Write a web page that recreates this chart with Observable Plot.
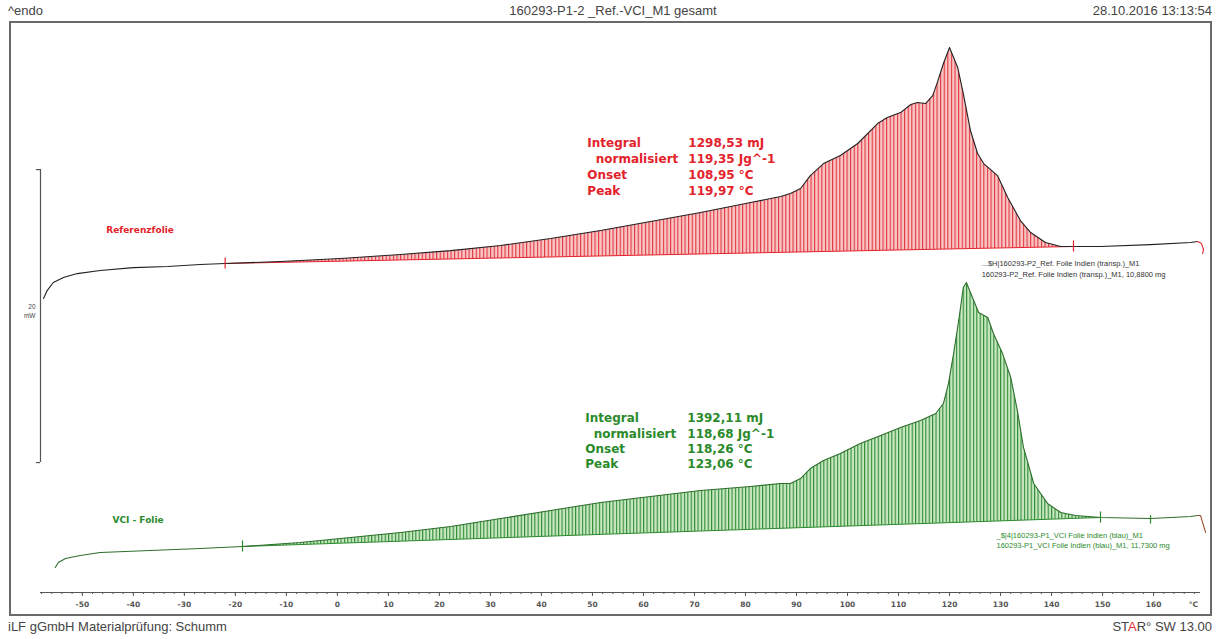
<!DOCTYPE html>
<html>
<head>
<meta charset="utf-8">
<script src="https://cdn.jsdelivr.net/npm/d3@7"></script>
<script src="https://cdn.jsdelivr.net/npm/@observablehq/plot@0.6"></script>
<style>
  html, body { margin: 0; padding: 0; background: #fff; }
  body { width: 1219px; height: 639px; position: relative; overflow: hidden; font-family: "Liberation Sans", Arial, sans-serif; color: #444; }
  .hdr { position: absolute; font-size: 13px; line-height: 15px; white-space: nowrap; }
  #chart { position: absolute; left: 0; top: 22px; }
  #frame { position: absolute; left: 9px; top: 21px; width: 1199px; height: 591px; border: 2px solid #6a6a6a; pointer-events: none; z-index: 2; }
</style>
</head>
<body>
<div class="hdr" style="left:8px;top:3px;">^endo</div>
<div class="hdr" style="left:0;width:1226px;text-align:center;top:3px;">160293-P1-2 _Ref.-VCI_M1 gesamt</div>
<div class="hdr" style="right:7px;top:3px;">28.10.2016 13:13:54</div>
<div id="chart"></div>
<div id="frame"></div>
<div class="hdr" style="left:8px;top:619px;">iLF gGmbH Materialprüfung: Schumm</div>
<div class="hdr" style="right:7px;top:619px;">ST<span style="color:#e0303a">A</span>R° SW 13.00</div>
<script>
// ---------- data (temperature in °C, plotted heat flow in mW incl. display offset) ----------
const xTicks = [-50,-40,-30,-20,-10,0,10,20,30,40,50,60,70,80,90,100,110,120,130,140,150,160];

// Referenzfolie (upper curve)
const refT = [-57.6,-56.9,-55.7,-53.7,-51.0,-46.5,-40.0,-33.3,-26.9,-22.0,-11.2,0.6,12.4,22.2,32.0,41.8,51.6,61.4,71.2,81.0,86.9,88.8,90.8,92.7,95.3,98.6,102.0,105.9,107.8,110.4,112.4,113.7,115.3,116.7,117.6,118.8,120.0,121.6,122.7,124.1,125.5,126.7,129.4,131.4,133.9,135.9,138.8,141.8,144.3,149.6,159.4,167.3,168.6];
const refV = [20.07,20.61,21.16,21.50,21.77,21.98,22.18,22.25,22.39,22.46,22.59,22.80,23.07,23.34,23.69,24.16,24.71,25.32,25.94,26.62,27.03,27.24,27.58,28.46,29.28,29.83,30.65,32.01,32.42,32.76,33.31,33.45,33.38,33.92,34.81,36.11,37.20,35.84,34.06,31.54,29.97,29.28,28.46,26.96,25.39,24.57,23.89,23.62,23.62,23.62,23.75,23.89,23.96];
const refTailT = [168.6,169.4,169.8,169.6];
const refTailV = [23.96,23.82,23.41,23.14];
const refLimits = [-22.0, 144.3];

// VCI - Folie (lower curve)
const vciT = [-55.3,-54.7,-53.3,-50.4,-46.5,-36.7,-26.9,-18.6,-7.3,0.6,12.4,22.2,32.0,41.8,51.6,61.4,71.2,81.0,86.9,88.8,90.8,92.7,95.3,98.6,102.5,106.5,110.4,114.3,117.3,118.8,119.8,120.8,121.8,122.7,123.3,124.5,125.7,127.5,128.6,130.4,132.0,133.3,134.5,136.5,139.2,141.8,144.7,149.6,159.4,167.3,168.6];
const vciV = [1.71,2.05,2.32,2.53,2.73,2.87,3.00,3.14,3.41,3.69,4.10,4.51,5.05,5.60,6.14,6.55,6.96,7.24,7.44,7.44,7.78,8.46,9.01,9.49,10.17,10.72,11.26,11.74,12.22,12.90,14.27,16.31,18.57,20.82,21.16,20.14,19.11,18.77,17.68,16.31,14.68,12.42,9.90,7.44,6.08,5.46,5.26,5.12,5.05,5.19,5.26];
const vciTailT = [168.6,169.2,170.2];
const vciTailV = [5.26,5.26,4.10];
const vciLimits = [-18.6, 149.6];
const vciExtraMarks = [159.4];

// annotations
const resultLabels = ["Integral", "\u00a0\u00a0normalisiert", "Onset", "Peak"];
const refResults = ["1298,53 mJ", "119,35 Jg^-1", "108,95 °C", "119,97 °C"];
const vciResults = ["1392,11 mJ", "118,68 Jg^-1", "118,26 °C", "123,06 °C"];
const refName = "Referenzfolie";
const vciName = "VCI - Folie";
const refInfo = ["...$H|160293-P2_Ref. Folie Indien (transp.)_M1", "160293-P2_Ref. Folie Indien (transp.)_M1, 10,8800 mg"];
const vciInfo = ["_$|4|160293-P1_VCI Folie Indien (blau)_M1", "160293-P1_VCI Folie Indien (blau)_M1, 11,7300 mg"];
const scaleBar = {x: -58.2, top: 28.87, bottom: 8.87, label: "20\nmW"};

// ---------- build tables ----------
const ref = refT.map((t, i) => ({t, v: refV[i]}));
const vci = vciT.map((t, i) => ({t, v: vciV[i]}));
const refTail = refTailT.map((t, i) => ({t, v: refTailV[i]}));
const vciTail = vciTailT.map((t, i) => ({t, v: vciTailV[i]}));
const refArea = ref.filter(d => d.t >= refLimits[0] && d.t <= refLimits[1]);
const vciArea = vci.filter(d => d.t >= vciLimits[0] && d.t <= vciLimits[1]);
const refBase = [refArea[0], refArea[refArea.length - 1]];
const vciBase = [vciArea[0], vciArea[vciArea.length - 1]];
const vciMarks = vci.filter(d => vciExtraMarks.includes(d.t));
const minorTicks = d3.range(-58, 170, 2);

const RED = "#e3232c", GREEN = "#2b8a2b";
const bold = {fontFamily: "DejaVu Sans", fontWeight: "bold"};

const chart = Plot.plot({
  width: 1219, height: 592,
  marginLeft: 40, marginRight: 19, marginTop: 0, marginBottom: 22,
  x: {domain: [-58.2, 169.2]},
  y: {domain: [0, 38.91], axis: null},
  style: {fontFamily: "DejaVu Sans", background: "transparent", overflow: "visible"},
  marks: [
    // hatched integral areas (closed polygon: curve + straight baseline)
    Plot.line(refArea, {x: "t", y: "v", fill: "url(#hatchR)", stroke: "none"}),
    Plot.line(vciArea, {x: "t", y: "v", fill: "url(#hatchG)", stroke: "none"}),
    Plot.line(refBase, {x: "t", y: "v", stroke: RED, strokeWidth: 1}),
    Plot.line(vciBase, {x: "t", y: "v", stroke: GREEN, strokeWidth: 1}),
    // curves
    Plot.line(ref, {x: "t", y: "v", stroke: "#222", strokeWidth: 1.1}),
    Plot.line(vci, {x: "t", y: "v", stroke: "#2d6e2d", strokeWidth: 1.1}),
    Plot.line(refTail, {x: "t", y: "v", stroke: RED, strokeWidth: 1.1}),
    Plot.line(vciTail, {x: "t", y: "v", stroke: "#9a4a2a", strokeWidth: 1.1}),
    // limit markers
    Plot.ruleX(refBase, {x: "t", y1: d => d.v - 0.38, y2: d => d.v + 0.38, stroke: RED, strokeWidth: 1.2}),
    Plot.ruleX(vciBase, {x: "t", y1: d => d.v - 0.38, y2: d => d.v + 0.38, stroke: GREEN, strokeWidth: 1.2}),
    Plot.ruleX(vciMarks, {x: "t", y1: d => d.v - 0.38, y2: d => d.v + 0.2, stroke: GREEN, strokeWidth: 1.2}),
    // x axis
    Plot.ruleY([0], {stroke: "#555", strokeWidth: 1}),
    Plot.axisX(minorTicks, {tickSize: 2, text: null, color: "#555"}),
    Plot.axisX(xTicks, {tickSize: 4, tickPadding: 5, tickFormat: d => String(d), color: "#555", fontSize: 7.5, fontWeight: "bold", fontFamily: "DejaVu Sans"}),
    Plot.text(["°C"], {x: 167.8, y: 0, dy: 12, text: d => d, fill: "#555", fontSize: 7.5, ...bold}),
    // scale bar
    Plot.ruleX([scaleBar], {x: "x", y1: "bottom", y2: "top", stroke: "#555", strokeWidth: 1.2}),
    Plot.ruleY([scaleBar.top, scaleBar.bottom], {x1: scaleBar.x - 0.8, x2: scaleBar.x, y: d => d, stroke: "#555", strokeWidth: 1.2}),
    Plot.text([scaleBar.label], {x: scaleBar.x, y: 19.25, dx: -5, text: d => d, textAnchor: "end", lineAnchor: "middle", lineHeight: 1.45, fontSize: 6.5, fill: "#444", fontFamily: "Liberation Sans"}),
    // curve names
    Plot.text([refName], {x: -45.3, y: 24.71, text: d => d, textAnchor: "start", fill: RED, fontSize: 9, ...bold}),
    Plot.text([vciName], {x: -44.1, y: 4.91, text: d => d, textAnchor: "start", fill: GREEN, fontSize: 9, ...bold}),
    // result blocks
    Plot.text([resultLabels.join("\n")], {x: 49.0, y: 29.15, text: d => d, textAnchor: "start", lineAnchor: "middle", lineHeight: 1.333, fill: RED, fontSize: 12, ...bold}),
    Plot.text([refResults.join("\n")], {x: 68.8, y: 29.15, text: d => d, textAnchor: "start", lineAnchor: "middle", lineHeight: 1.333, fill: RED, fontSize: 12, ...bold}),
    Plot.text([resultLabels.join("\n")], {x: 48.6, y: 10.38, text: d => d, textAnchor: "start", lineAnchor: "middle", lineHeight: 1.28, fill: GREEN, fontSize: 12, ...bold}),
    Plot.text([vciResults.join("\n")], {x: 68.6, y: 10.38, text: d => d, textAnchor: "start", lineAnchor: "middle", lineHeight: 1.28, fill: GREEN, fontSize: 12, ...bold}),
    // sample info
    Plot.text([refInfo.join("\n")], {x: 126.3, y: 22.15, text: d => d, textAnchor: "start", lineAnchor: "middle", lineHeight: 1.4, fill: "#333", fontSize: 7.5, fontFamily: "Liberation Sans"}),
    Plot.text([vciInfo.join("\n")], {x: 129.2, y: 3.62, text: d => d, textAnchor: "start", lineAnchor: "middle", lineHeight: 1.35, fill: GREEN, fontSize: 7.5, fontFamily: "Liberation Sans"})
  ]
});

const NS = "http://www.w3.org/2000/svg";
const defs = document.createElementNS(NS, "defs");
defs.innerHTML =
  '<pattern id="hatchR" patternUnits="userSpaceOnUse" width="3.6" height="20">' +
  '<rect width="3.6" height="20" fill="#f9c6c6"/>' +
  '<rect x="0" width="1.1" height="20" fill="#e2353d"/></pattern>' +
  '<pattern id="hatchG" patternUnits="userSpaceOnUse" width="3.4" height="20">' +
  '<rect width="3.4" height="20" fill="#c8e8c2"/>' +
  '<rect x="0" width="1.1" height="20" fill="#2f8a34"/></pattern>';
chart.insertBefore(defs, chart.firstChild);
document.getElementById("chart").appendChild(chart);
</script>
</body>
</html>
